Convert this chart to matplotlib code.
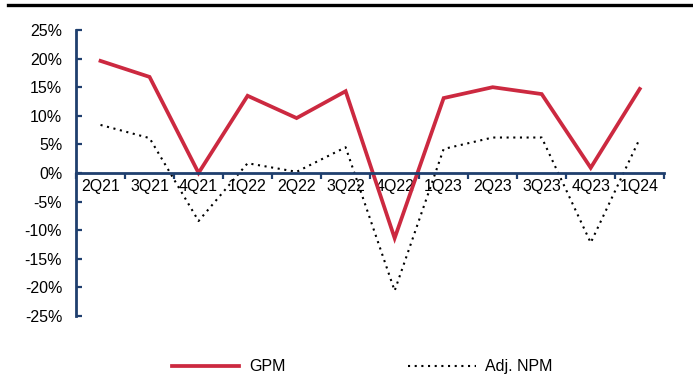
import matplotlib
matplotlib.use('Agg')
from matplotlib import pyplot as plt
from matplotlib.lines import Line2D
from matplotlib.ticker import FuncFormatter
import numpy as np

plt.rcParams['font.family'] = ['Liberation Sans', 'DejaVu Sans']

quarters = ['2Q21', '3Q21', '4Q21', '1Q22', '2Q22', '3Q22',
            '4Q22', '1Q23', '2Q23', '3Q23', '4Q23', '1Q24']
gpm = [19.6, 16.8, 0.0, 13.5, 9.6, 14.3, -11.4, 13.1, 15.0, 13.8, 0.9, 14.7]
adj_npm = [8.4, 6.1, -8.4, 1.7, 0.2, 4.5, -20.6, 4.2, 6.2, 6.2, -12.2, 6.0]

navy = '#1F3F6E'
red = '#CC2940'

fig = plt.figure(figsize=(6.93, 3.90), dpi=100)
ax = fig.add_axes([0.1097, 0.19, 0.8488, 0.733])

xs = np.arange(len(quarters))
ax.plot(xs, gpm, color=red, lw=2.7, label='GPM', solid_joinstyle='miter')
ax.plot(xs, adj_npm, color='black', lw=1.5, linestyle=(0, (1, 2.2)),
        label='Adj. NPM')

ax.set_xlim(-0.5, len(quarters) - 0.5)
ax.set_ylim(-25, 25)
ax.set_yticks(np.arange(-25, 26, 5))
ax.yaxis.set_major_formatter(FuncFormatter(lambda v, p: '%d%%' % v))

# category labels at centres, tick marks at the boundaries
ax.set_xticks(xs)
ax.set_xticklabels(quarters)
ax.set_xticks(np.arange(-0.5, len(quarters)), minor=True)
ax.tick_params(axis='x', which='major', length=0, pad=4, labelsize=11.5)
ax.tick_params(axis='x', which='minor', length=4, width=1.6, color=navy,
               direction='out')
ax.tick_params(axis='y', length=4, width=1.6, color=navy, direction='in',
               pad=10, labelsize=11.5)

for side in ['top', 'right']:
    ax.spines[side].set_visible(False)
ax.spines['bottom'].set_position(('data', 0))
ax.spines['bottom'].set_color(navy)
ax.spines['bottom'].set_linewidth(2)
ax.spines['left'].set_color(navy)
ax.spines['left'].set_linewidth(2)

fig.legend(loc='center', bbox_to_anchor=(0.523, 0.059), ncol=2, frameon=False,
           handlelength=4.2, handletextpad=0.6, columnspacing=7.7,
           fontsize=11.5)

fig.add_artist(Line2D([0.012, 1.0], [0.988, 0.988], color='black', lw=2.4))

fig.savefig('out.png', dpi=100)
